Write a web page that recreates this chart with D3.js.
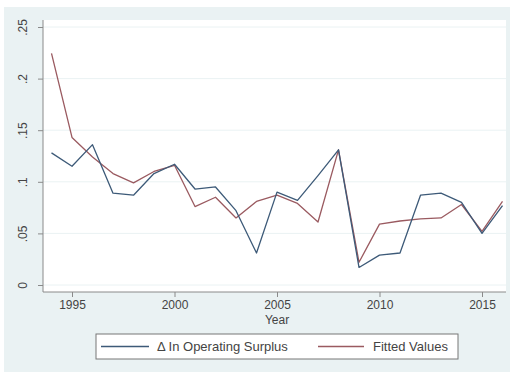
<!DOCTYPE html>
<html><head><meta charset="utf-8">
<script src="https://cdn.jsdelivr.net/npm/d3@7"></script>
<style>body{margin:0;background:#fff}svg{display:block}</style>
</head><body>
<script>
const years = d3.range(1994, 2017);
const surplus = [0.128,0.115,0.136,0.089,0.087,0.108,0.117,0.093,0.095,0.072,0.031,0.090,0.082,0.106,0.131,0.017,0.029,0.031,0.087,0.089,0.080,0.050,0.077];
const fitted  = [0.2245,0.143,0.124,0.108,0.099,0.110,0.116,0.076,0.085,0.065,0.081,0.087,0.079,0.061,0.131,0.022,0.059,0.062,0.064,0.065,0.078,0.052,0.081];
const xTicks = [1995, 2000, 2005, 2010, 2015];
const yTicks = [0, 0.05, 0.1, 0.15, 0.2, 0.25];
const yTickLabels = ["0", ".05", ".1", ".15", ".2", ".25"];
const seriesNames = ["\u0394 In Operating Surplus", "Fitted Values"];
const colors = ["#3d5a78", "#9a5a60"];
const FONT = "Liberation Sans, Arial, sans-serif";

const W = 518, H = 372;
const svg = d3.select("body").append("svg").attr("width", W).attr("height", H);
svg.append("rect").attr("x", 4).attr("y", 7).attr("width", 506).attr("height", 365).attr("fill", "#eaf2f3");
const plot = {x0: 43, x1: 506, y0: 20, y1: 292};
svg.append("rect").attr("x", plot.x0).attr("y", plot.y0).attr("width", plot.x1 - plot.x0).attr("height", plot.y1 - plot.y0).attr("fill", "#fff");

const x = d3.scaleLinear().domain([1994, 2016]).range([51.5, 502.5]);
const y = d3.scaleLinear().domain([0, 0.25]).range([285, 27]);

// gridlines
svg.append("g").selectAll("line").data(yTicks).join("line")
  .attr("x1", plot.x0).attr("x2", plot.x1).attr("y1", d => y(d)).attr("y2", d => y(d))
  .attr("stroke", "#eaf2f3").attr("stroke-width", 1);

// y axis
const yAxis = d3.axisLeft(y).tickValues(yTicks).tickSize(5).tickFormat((d, i) => yTickLabels[i]);
const gy = svg.append("g").attr("transform", `translate(${plot.x0},0)`).call(yAxis);
gy.select(".domain").attr("d", `M0,${plot.y0}V${plot.y1}`).attr("stroke", "#8a8a8a");
gy.selectAll(".tick line").attr("stroke", "#8a8a8a");
gy.selectAll(".tick text")
  .attr("transform", "rotate(-90)").attr("x", 0).attr("y", -16).attr("dy", 0)
  .attr("text-anchor", "middle").attr("fill", "#444")
  .style("font-family", FONT).style("font-size", "12px");

// x axis
const xAxis = d3.axisBottom(x).tickValues(xTicks).tickSize(5).tickFormat(d3.format("d"));
const gx = svg.append("g").attr("transform", `translate(0,${plot.y1})`).call(xAxis);
gx.select(".domain").attr("d", `M${plot.x0},0H${plot.x1}`).attr("stroke", "#8a8a8a");
gx.selectAll(".tick line").attr("stroke", "#8a8a8a");
gx.selectAll(".tick text").attr("y", 8).attr("fill", "#444")
  .style("font-family", FONT).style("font-size", "12px");

svg.append("text").attr("x", x(2005)).attr("y", 324).attr("text-anchor", "middle")
  .attr("fill", "#444").style("font-family", FONT).style("font-size", "12px").text("Year");

// lines
const line = d3.line().x((d, i) => x(years[i])).y(d => y(d));
svg.append("path").datum(fitted).attr("d", line).attr("fill", "none")
  .attr("stroke", colors[1]).attr("stroke-width", 1.3).attr("stroke-linejoin", "round");
svg.append("path").datum(surplus).attr("d", line).attr("fill", "none")
  .attr("stroke", colors[0]).attr("stroke-width", 1.3).attr("stroke-linejoin", "round");

// legend
const lg = svg.append("g");
lg.append("rect").attr("x", 96).attr("y", 334).attr("width", 362).attr("height", 25)
  .attr("fill", "#fff").attr("stroke", "#777").attr("stroke-width", 1);
const items = [{x1: 101, x2: 149, tx: 157}, {x1: 318, x2: 364, tx: 373}];
items.forEach((it, i) => {
  lg.append("line").attr("x1", it.x1).attr("x2", it.x2).attr("y1", 346.5).attr("y2", 346.5)
    .attr("stroke", colors[i]).attr("stroke-width", 1.3);
  lg.append("text").attr("x", it.tx).attr("y", 351).attr("fill", "#444")
    .style("font-family", FONT).style("font-size", "13px").text(seriesNames[i]);
});
</script>
</body></html>
